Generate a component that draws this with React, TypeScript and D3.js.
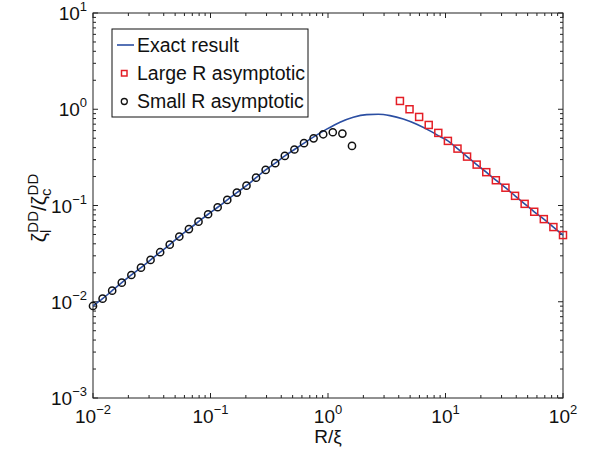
import React from "react";
import * as d3 from "d3";

// Sampling grid (logspace from 1e-2 to 1e2, 50 points)
const smallX = [
  0.01, 0.01207, 0.01456, 0.01758, 0.02121, 0.0256, 0.03089, 0.03728, 0.04498, 0.05429,
  0.06551, 0.07906, 0.09541, 0.1151, 0.1389, 0.1677, 0.2024, 0.2442, 0.2947, 0.3556,
  0.4292, 0.5179, 0.6251, 0.7543, 0.9103, 1.0985, 1.3257, 1.5999,
];
const smallY = [
  0.00904, 0.01076, 0.01303, 0.01578, 0.01897, 0.0226, 0.0272, 0.0327, 0.0392, 0.0476,
  0.0569, 0.0679, 0.0811, 0.0959, 0.1143, 0.1361, 0.1607, 0.1945, 0.2344, 0.2754,
  0.3273, 0.3819, 0.4446, 0.4989, 0.5495, 0.5768, 0.5585, 0.4159,
];

const largeX = [
  4.095, 4.942, 5.964, 7.197, 8.685, 10.48, 12.65, 15.26, 18.42, 22.23,
  26.83, 32.37, 39.07, 47.15, 56.9, 68.66, 82.86, 100,
];
const largeY = [
  1.219, 1.0, 0.832, 0.687, 0.568, 0.469, 0.39, 0.322, 0.266, 0.222,
  0.183, 0.153, 0.126, 0.104, 0.0861, 0.0722, 0.0597, 0.0493,
];

const exactX = [
  0.01, 0.01207, 0.01456, 0.01758, 0.02121, 0.0256, 0.03089, 0.03728, 0.04498, 0.05429,
  0.06551, 0.07906, 0.09541, 0.1151, 0.1389, 0.1677, 0.2024, 0.2442, 0.2947, 0.3556,
  0.4292, 0.5179, 0.6251, 0.75, 0.975, 1.265, 1.641, 2.135, 2.68, 3.37,
  4.37, 5.69, 7.38, 8.98, 10.48, 12.65, 15.26, 18.42, 22.23, 26.83,
  32.37, 39.07, 47.15, 56.9, 68.66, 82.86, 100,
];
const exactY = [
  0.00904, 0.01076, 0.01303, 0.01578, 0.01897, 0.0226, 0.0272, 0.0327, 0.0392, 0.0476,
  0.0569, 0.0679, 0.0811, 0.0959, 0.1143, 0.1361, 0.1607, 0.1945, 0.2344, 0.2754,
  0.3273, 0.3819, 0.4446, 0.513, 0.621, 0.733, 0.826, 0.879, 0.887, 0.859,
  0.793, 0.699, 0.596, 0.52, 0.469, 0.39, 0.322, 0.266, 0.222, 0.183,
  0.153, 0.126, 0.104, 0.0861, 0.0722, 0.0597, 0.0493,
];

const xMajor = [-2, -1, 0, 1, 2];
const yMajor = [-3, -2, -1, 0, 1];
const legendLabels = ["Exact result", "Large R asymptotic", "Small R asymptotic"];

const W = 591;
const H = 450;
const L = 93, R = 563, T = 13, B = 398;
const FONT = "'Liberation Sans', Arial, Helvetica, sans-serif";
const BLUE = "#2b4ea2";
const RED = "#e41e26";

function minorTicks(lo: number, hi: number) {
  const out: number[] = [];
  for (let e = lo; e < hi; e++) {
    for (let m = 2; m <= 9; m++) out.push(m * Math.pow(10, e));
  }
  return out;
}

function expLabel(e: number) {
  return e < 0 ? "\u2212" + Math.abs(e) : String(e);
}

export default function App() {
  const x = d3.scaleLog().domain([1e-2, 1e2]).range([L, R]);
  const y = d3.scaleLog().domain([1e-3, 1e1]).range([B, T]);

  const line = d3
    .line<number>()
    .x((_, i) => x(exactX[i]))
    .y((d) => y(d))
    .curve(d3.curveMonotoneX);

  const xMinor = minorTicks(-2, 2);
  const yMinor = minorTicks(-3, 1);
  const majLen = 5;
  const minLen = 3;
  const tickColor = "#222";

  return (
    <svg
      width={W}
      height={H}
      style={{ position: "absolute", left: 0, top: 0, background: "#fff" }}
      fontFamily={FONT}
    >
      <rect x={0} y={0} width={W} height={H} fill="#fff" />
      {/* ticks */}
      <g stroke={tickColor} strokeWidth={1}>
        {xMinor.map((v, i) => (
          <g key={"xm" + i}>
            <line x1={x(v)} x2={x(v)} y1={B} y2={B - minLen} />
            <line x1={x(v)} x2={x(v)} y1={T} y2={T + minLen} />
          </g>
        ))}
        {xMajor.map((e) => (
          <g key={"xM" + e}>
            <line x1={x(Math.pow(10, e))} x2={x(Math.pow(10, e))} y1={B} y2={B - majLen} />
            <line x1={x(Math.pow(10, e))} x2={x(Math.pow(10, e))} y1={T} y2={T + majLen} />
          </g>
        ))}
        {yMinor.map((v, i) => (
          <g key={"ym" + i}>
            <line x1={L} x2={L + minLen} y1={y(v)} y2={y(v)} />
            <line x1={R} x2={R - minLen} y1={y(v)} y2={y(v)} />
          </g>
        ))}
        {yMajor.map((e) => (
          <g key={"yM" + e}>
            <line x1={L} x2={L + majLen} y1={y(Math.pow(10, e))} y2={y(Math.pow(10, e))} />
            <line x1={R} x2={R - majLen} y1={y(Math.pow(10, e))} y2={y(Math.pow(10, e))} />
          </g>
        ))}
      </g>
      <rect x={L} y={T} width={R - L} height={B - T} fill="none" stroke={tickColor} strokeWidth={1} />

      {/* x tick labels */}
      {xMajor.map((e) => (
        <text key={"xl" + e} x={x(Math.pow(10, e))} y={423} fontSize={19} textAnchor="middle" fill="#111">
          10
          <tspan fontSize={13} dy={-9}>{expLabel(e)}</tspan>
        </text>
      ))}
      {/* y tick labels */}
      {yMajor.map((e) => (
        <text key={"yl" + e} x={87} y={y(Math.pow(10, e)) + 7} fontSize={19} textAnchor="end" fill="#111">
          10
          <tspan fontSize={13} dy={-9}>{expLabel(e)}</tspan>
        </text>
      ))}

      {/* axis titles */}
      <text x={328} y={443} fontSize={19} textAnchor="middle" fill="#111">R/ξ</text>
      <text transform="translate(46,208) rotate(-90)" fontSize={21} textAnchor="middle" fill="#111">
        ζ<tspan fontSize={15} dy={5}>l</tspan>
        <tspan fontSize={15} dy={-13} dx={-3}>DD</tspan>
        <tspan dy={8}>/ζ</tspan>
        <tspan fontSize={15} dy={5}>c</tspan>
        <tspan fontSize={15} dy={-13} dx={-7}>DD</tspan>
      </text>

      {/* exact curve */}
      <path d={line(exactY) || ""} fill="none" stroke={BLUE} strokeWidth={1.6} />

      {/* small R circles */}
      {smallY.map((v, i) => (
        <circle key={"c" + i} cx={x(smallX[i])} cy={y(v)} r={3.6} fill="none" stroke="#111" strokeWidth={1.5} />
      ))}
      {/* large R squares */}
      {largeY.map((v, i) => (
        <rect
          key={"s" + i}
          x={x(largeX[i]) - 3.5}
          y={y(v) - 3.5}
          width={7}
          height={7}
          fill="none"
          stroke={RED}
          strokeWidth={1.5}
        />
      ))}

      {/* legend */}
      <g>
        <rect x={112} y={29} width={196} height={88} fill="#fff" stroke="#111" strokeWidth={1} />
        <line x1={117} x2={134} y1={45} y2={45} stroke={BLUE} strokeWidth={1.6} />
        <rect x={121.5} y={70.5} width={5.5} height={5.5} fill="none" stroke={RED} strokeWidth={1.5} />
        <circle cx={124.3} cy={101.5} r={3} fill="none" stroke="#111" strokeWidth={1.3} />
        {legendLabels.map((t, i) => (
          <text key={t} x={137} y={45 + i * 28.2 + 6.8} fontSize={19.5} fill="#111">{t}</text>
        ))}
      </g>
    </svg>
  );
}
